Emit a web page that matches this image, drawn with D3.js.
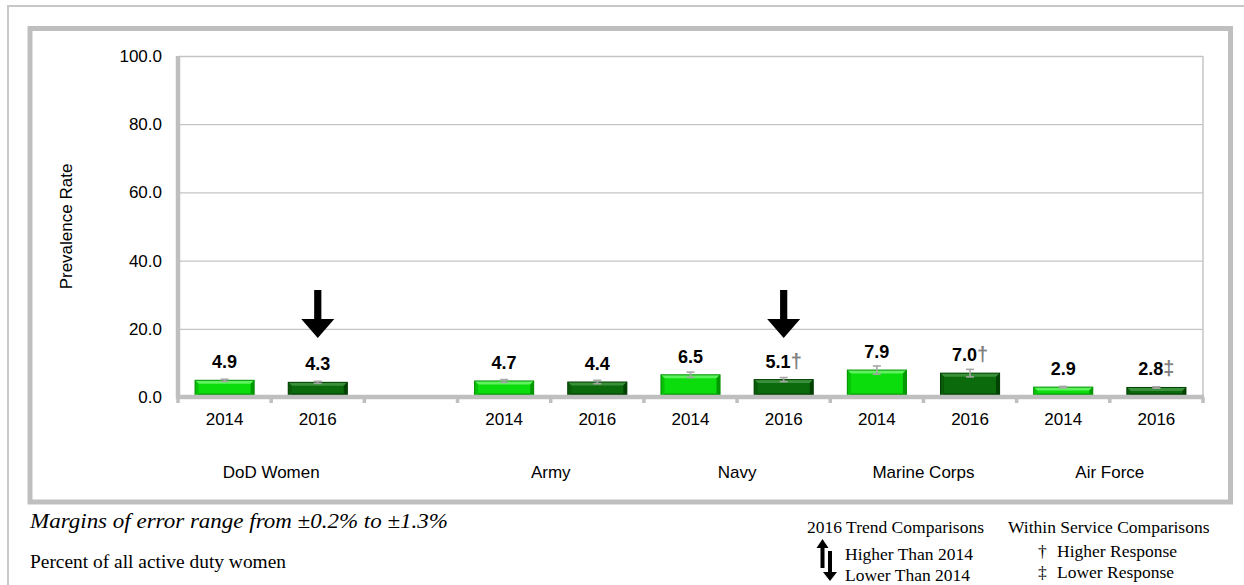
<!DOCTYPE html>
<html>
<head>
<meta charset="utf-8">
<script src="https://cdn.jsdelivr.net/npm/d3@7"></script>
<style>
  html, body { margin: 0; padding: 0; background: #fff; }
  svg { display: block; }
</style>
</head>
<body>
<svg></svg>
<script>
const groups = ["DoD Women", "Army", "Navy", "Marine Corps", "Air Force"];
const years = ["2014", "2016"];
const values2014 = [4.9, 4.7, 6.5, 7.9, 2.9];
const values2016 = [4.3, 4.4, 5.1, 7.0, 2.8];
const margin2014 = [0.3, 0.4, 0.8, 1.2, 0.2];
const margin2016 = [0.3, 0.5, 0.6, 1.1, 0.2];
const marks2016 = ["", "", "†", "†", "‡"];
const trend2016 = ["down", "", "down", "", ""];
const yTicks = [0, 20, 40, 60, 80, 100];

const width = 1244, height = 585;
const svg = d3.select('svg').attr('width', width).attr('height', height);

const plotLeft = 178, plotRight = 1203, plotTop = 56, plotZero = 397;
const frameGray = '#bfbfbf';

// one slot per year, plus an empty slot after DoD Women
const slots = [];
groups.forEach((g, i) => {
  years.forEach(yr => slots.push(g + '|' + yr));
  if (i === 0) slots.push('gap');
});

const x = d3.scaleBand().domain(slots).range([plotLeft, plotRight])
  .paddingInner(0.366).paddingOuter(0.183);
const y = d3.scaleLinear().domain([0, 100]).range([plotZero, plotTop]);

const bars = [];
groups.forEach((g, i) => {
  bars.push({group: g, year: '2014', value: values2014[i], moe: margin2014[i], mark: '', trend: ''});
  bars.push({group: g, year: '2016', value: values2016[i], moe: margin2016[i], mark: marks2016[i], trend: trend2016[i]});
});

const colors = {
  '2014': {face: '#0bdc0b', light: '#5ff25f', side: '#08c008', dark: '#049a04', edge: '#009000'},
  '2016': {face: '#0b6a0b', light: '#3a8f3a', side: '#0a5a0a', dark: '#034003', edge: '#024002'}
};

// outer thin frame and inner thick frame
svg.append('path')
  .attr('d', `M8,${height + 5} V6 H${width + 5}`)
  .attr('fill', 'none').attr('stroke', '#c8c8c8').attr('stroke-width', 2);
svg.append('rect')
  .attr('x', 30).attr('y', 28.5).attr('width', 1200.5).attr('height', 473.5)
  .attr('fill', 'none').attr('stroke', frameGray).attr('stroke-width', 5);

// gridlines + y labels
const yAxis = d3.axisLeft(y)
  .tickValues(yTicks)
  .tickFormat(d3.format('.1f'))
  .tickSize(-(plotRight - plotLeft))
  .tickPadding(16);
const yAxisG = svg.append('g').attr('transform', `translate(${plotLeft},0)`).call(yAxis);
yAxisG.select('.domain').remove();
yAxisG.selectAll('line').attr('stroke', '#c4c4c4').attr('stroke-width', 1.3);
yAxisG.selectAll('text')
  .attr('font-family', 'Arial, "Liberation Sans", sans-serif')
  .attr('font-size', 17).attr('fill', '#000');

// right border of plot area
svg.append('line')
  .attr('x1', plotRight).attr('x2', plotRight).attr('y1', plotTop).attr('y2', plotZero)
  .attr('stroke', '#c4c4c4').attr('stroke-width', 1.5);

svg.append('text')
  .attr('transform', `translate(72,${(plotTop + plotZero) / 2}) rotate(-90)`)
  .attr('text-anchor', 'middle')
  .attr('font-family', 'Arial, "Liberation Sans", sans-serif')
  .attr('font-size', 17)
  .text('Prevalence Rate');

// bars with a bevelled look
const bw = x.bandwidth();
const b = 3.5;
const barG = svg.selectAll('.bar').data(bars).enter().append('g').attr('class', 'bar');
barG.each(function(d) {
  const g = d3.select(this);
  const c = colors[d.year];
  const x0 = x(d.group + '|' + d.year), x1 = x0 + bw;
  const y0 = y(d.value), y1 = y(0);
  g.append('rect').attr('x', x0).attr('y', y0).attr('width', bw).attr('height', y1 - y0)
    .attr('fill', c.face);
  const poly = (pts, fill) => g.append('polygon').attr('points', pts.map(p => p.join(',')).join(' ')).attr('fill', fill);
  poly([[x0, y0], [x1, y0], [x1 - b, y0 + b], [x0 + b, y0 + b]], c.light);
  poly([[x0, y1], [x1, y1], [x1 - b, y1 - b], [x0 + b, y1 - b]], c.dark);
  poly([[x0, y0], [x0 + b, y0 + b], [x0 + b, y1 - b], [x0, y1]], c.side);
  poly([[x1, y0], [x1 - b, y0 + b], [x1 - b, y1 - b], [x1, y1]], c.dark);
  g.append('rect').attr('x', x0).attr('y', y0).attr('width', bw).attr('height', y1 - y0)
    .attr('fill', 'none').attr('stroke', c.edge).attr('stroke-width', 1);
});

// error bars
const errG = svg.selectAll('.err').data(bars).enter().append('g').attr('class', 'err')
  .attr('stroke', '#a6a6a6').attr('stroke-width', 1.6);
errG.append('line')
  .attr('x1', d => x(d.group + '|' + d.year) + bw / 2)
  .attr('x2', d => x(d.group + '|' + d.year) + bw / 2)
  .attr('y1', d => y(d.value + d.moe)).attr('y2', d => y(d.value - d.moe));
errG.append('line')
  .attr('x1', d => x(d.group + '|' + d.year) + bw / 2 - 4)
  .attr('x2', d => x(d.group + '|' + d.year) + bw / 2 + 4)
  .attr('y1', d => y(d.value + d.moe)).attr('y2', d => y(d.value + d.moe));
errG.append('line')
  .attr('x1', d => x(d.group + '|' + d.year) + bw / 2 - 4)
  .attr('x2', d => x(d.group + '|' + d.year) + bw / 2 + 4)
  .attr('y1', d => y(d.value - d.moe)).attr('y2', d => y(d.value - d.moe));

// value labels
const labels = svg.selectAll('.val').data(bars).enter().append('text').attr('class', 'val')
  .attr('x', d => x(d.group + '|' + d.year) + bw / 2)
  .attr('y', d => y(d.value) - 12)
  .attr('text-anchor', 'middle')
  .attr('font-family', 'Arial, "Liberation Sans", sans-serif')
  .attr('font-weight', 'bold');
labels.append('tspan').attr('font-size', 18).attr('fill', '#000').text(d => d.value.toFixed(1));
labels.append('tspan').attr('font-size', 20).attr('fill', '#808080').text(d => d.mark);

// trend arrows
svg.selectAll('.trend').data(bars.filter(d => d.trend === 'down')).enter().append('path')
  .attr('class', 'trend')
  .attr('transform', d => `translate(${x(d.group + '|' + d.year) + bw / 2},290)`)
  .attr('d', 'M-3.6,0 H3.6 V29 H16.5 L0,48 L-16.5,29 H-3.6 Z')
  .attr('fill', '#000');

// x axis: thick line, boundary ticks, year labels
const xAxis = d3.axisBottom(x)
  .tickFormat(d => d === 'gap' ? '' : d.split('|')[1])
  .tickSize(0).tickPadding(16);
const xAxisG = svg.append('g').attr('transform', `translate(0,${plotZero})`).call(xAxis);
xAxisG.select('.domain').remove();
xAxisG.selectAll('text')
  .attr('font-family', 'Arial, "Liberation Sans", sans-serif')
  .attr('font-size', 17).attr('fill', '#000');

const bounds = d3.range(slots.length + 1).map(i => plotLeft + i * x.step());
svg.selectAll('.xtick').data(bounds).enter().append('line').attr('class', 'xtick')
  .attr('x1', d => d).attr('x2', d => d).attr('y1', plotZero).attr('y2', plotZero + 6)
  .attr('stroke', frameGray).attr('stroke-width', 3.5);
svg.append('line')
  .attr('x1', plotLeft - 2).attr('x2', plotRight + 1).attr('y1', plotZero).attr('y2', plotZero)
  .attr('stroke', frameGray).attr('stroke-width', 4.5);
svg.append('line')
  .attr('x1', plotLeft).attr('x2', plotLeft).attr('y1', plotTop).attr('y2', plotZero + 2)
  .attr('stroke', frameGray).attr('stroke-width', 4.5);

svg.selectAll('.grp').data(groups).enter().append('text').attr('class', 'grp')
  .attr('x', g => (x(g + '|2014') + x(g + '|2016') + bw) / 2)
  .attr('y', 478)
  .attr('text-anchor', 'middle')
  .attr('font-family', 'Arial, "Liberation Sans", sans-serif')
  .attr('font-size', 17)
  .text(g => g);

// notes (source text is slightly wide, so stretch to its width)
const serif = '"Times New Roman", "Liberation Serif", serif';
svg.append('text').attr('x', 30).attr('y', 528)
  .attr('font-family', serif).attr('font-style', 'italic').attr('font-size', 21)
  .attr('textLength', 418).attr('lengthAdjust', 'spacingAndGlyphs')
  .text('Margins of error range from ±0.2% to ±1.3%');
svg.append('text').attr('x', 30).attr('y', 568)
  .attr('font-family', serif).attr('font-size', 18)
  .attr('textLength', 256).attr('lengthAdjust', 'spacingAndGlyphs')
  .text('Percent of all active duty women');

// legend
const leg = svg.append('g').attr('font-family', serif).attr('font-size', 17.5);
leg.append('text').attr('x', 807).attr('y', 533).text('2016 Trend Comparisons');
leg.append('text').attr('x', 845).attr('y', 560).text('Higher Than 2014');
leg.append('text').attr('x', 845).attr('y', 581).text('Lower Than 2014');
leg.append('path').attr('fill', '#000')
  .attr('d', 'M822.5,539 L828.5,548 H824.5 V568 H820.5 V548 H816.5 Z');
leg.append('path').attr('fill', '#000')
  .attr('d', 'M828,551 H832 V572 H837 L830,581 L823,572 H828 Z');
leg.append('text').attr('x', 1008).attr('y', 533).text('Within Service Comparisons');
leg.append('text').attr('x', 1038).attr('y', 557).text('†');
leg.append('text').attr('x', 1057).attr('y', 557).text('Higher Response');
leg.append('text').attr('x', 1038).attr('y', 578).text('‡');
leg.append('text').attr('x', 1057).attr('y', 578).text('Lower Response');
</script>
</body>
</html>
